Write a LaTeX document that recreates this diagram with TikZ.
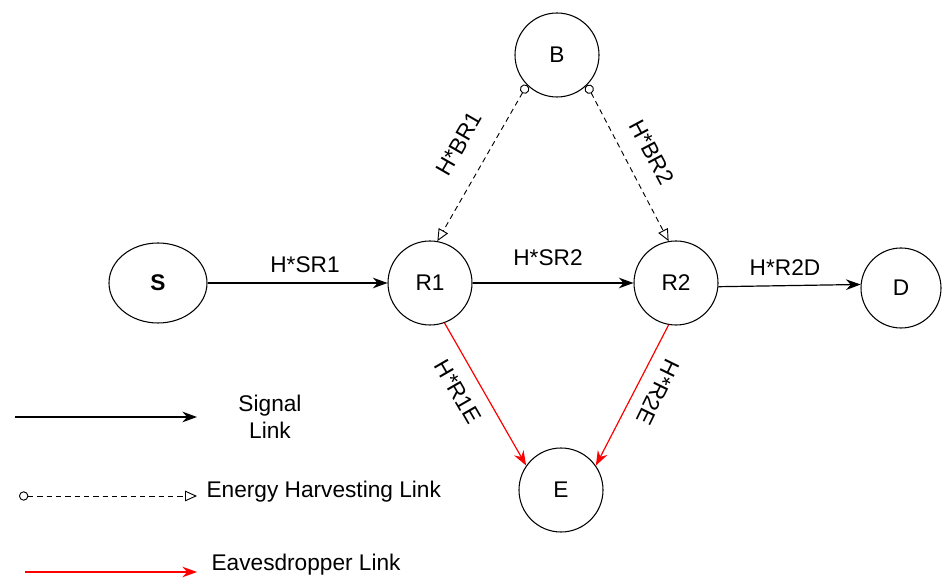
\documentclass[tikz,border=0pt]{standalone}
\usepackage{fontspec}
\setmainfont{Liberation Sans}
\usetikzlibrary{arrows.meta,shapes.geometric}

\tikzset{
  station/.style={draw, circle, line width=0.8pt, minimum size=63pt, inner sep=0pt, font=\fontsize{17}{20}\selectfont},
  source/.style={draw, ellipse, line width=0.8pt, minimum width=73.5pt, minimum height=60pt, inner sep=0pt, font=\fontsize{17}{20}\selectfont},
  lbl/.style={inner sep=1pt, font=\fontsize{17}{20}\selectfont},
  signal/.style={line width=0.9pt, -{Stealth[length=11pt, width=8pt]}},
  harvest/.style={line width=0.7pt, dash pattern=on 4pt off 3pt, {Circle[open, length=7pt, width=7pt]}-{Triangle[open, length=9pt, width=8pt]}},
  eaves/.style={red, line width=0.9pt, -{Stealth[length=11pt, width=8pt]}}
}

\begin{document}
\begin{tikzpicture}[x=0.75pt, y=0.75pt]
  % Canvas size
  \useasboundingbox (0,0) rectangle (942,578);

  % Draw the nodes
  \node[source] (S) at (158,295) {\textbf{S}};
  \node[station] (R1) at (430,295) {R1};
  \node[station] (R2) at (676,295) {R2};
  \node[station, minimum size=60pt] (D) at (901,290) {D};
  \node[station] (B) at (557,523) {B};
  \node[station] (E) at (561,88) {E};

  % Signal links
  \draw[signal] (S) -- (R1);
  \draw[signal] (R1) -- (R2);
  \draw[signal] (R2.-5) -- (D.175);

  % Energy harvesting links
  \draw[harvest] (B.-135) -- (R1.80);
  \draw[harvest] (B.-45) -- (R2.100);

  % Eavesdropper links
  \draw[eaves] (R1.-70) -- (E.145);
  \draw[eaves] (R2.-100) -- (E.35);

  % Channel labels
  \node[lbl] (lSR1) at (305,313) {H*SR1};
  \node[lbl] (lSR2) at (548,320) {H*SR2};
  \node[lbl] (lR2D) at (785,310) {H*R2D};
  \node[lbl, rotate=60] (lBR1) at (459,434) {H*BR1};
  \node[lbl, rotate=-62] (lBR2) at (652,426) {H*BR2};
  \node[lbl, rotate=-60] (lR1E) at (458,186) {H*R1E};
  \node[lbl, rotate=-116] (lR2E) at (658,186) {H*R2E};

  % Legend
  \coordinate (sig0) at (15,161);
  \coordinate (sig1) at (197,161);
  \draw[signal] (sig0) -- (sig1);
  \node[lbl, align=center] (sigtxt) at (270,161) {Signal\\Link};

  \coordinate (eh0) at (19,82);
  \coordinate (eh1) at (197,82);
  \draw[harvest] (eh0) -- (eh1);
  \node[lbl, anchor=west] (ehtxt) at (205,86) {Energy Harvesting Link};

  \coordinate (ev0) at (25,6);
  \coordinate (ev1) at (197,6);
  \draw[eaves] (ev0) -- (ev1);
  \node[lbl, anchor=west] (evtxt) at (210,13) {Eavesdropper Link};
\end{tikzpicture}
\end{document}
